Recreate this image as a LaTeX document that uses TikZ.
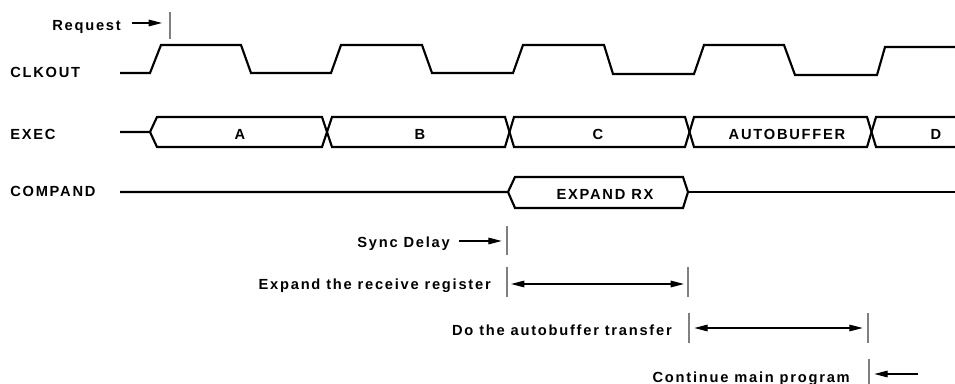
\documentclass[tikz,border=0pt]{standalone}
\usepackage{fontspec}
\setmainfont{Liberation Sans}[LetterSpace=12]
\usetikzlibrary{arrows.meta}
\definecolor{bargray}{HTML}{808080}
\begin{document}
\begin{tikzpicture}[x=0.75pt,y=-0.75pt,
  lbl/.style={font=\fontsize{11}{13}\selectfont\bfseries, inner sep=0pt},
  wave/.style={line width=1.6pt, line join=miter},
  bar/.style={draw=none, fill=bargray, minimum width=1.7pt, inner sep=0pt, minimum height=#1*0.75pt},
  arr/.style={line width=0.8pt, -{Triangle[length=10pt,width=5pt]}},
  dbl/.style={line width=0.8pt, {Triangle[length=10pt,width=5pt]}-{Triangle[length=10pt,width=5pt]}}]
\useasboundingbox (0,0) rectangle (955,384);

% signal names
\node[lbl, anchor=base west] (clk) at (10,78) {CLKOUT};
\node[lbl, anchor=base west] (exec) at (10,140) {EXEC};
\node[lbl, anchor=base west] (comp) at (10,197) {COMPAND};

% CLKOUT waveform
\draw[wave] (120,73) -- (150,73) -- (161,45) -- (241,45) -- (251,73) -- (331,73) -- (341,45)
  -- (422,45) -- (432,73) -- (513,73) -- (523,45) -- (604,45) -- (613,74) -- (694,74)
  -- (704,45) -- (784,45) -- (795,75) -- (877,75) -- (885,47) -- (955,47);

% EXEC bus
\draw[wave] (120,132) -- (150,132) -- (157,117) -- (322,117) -- (332,147) -- (505,147) -- (514,117)
  -- (685,117) -- (694,147) -- (867,147) -- (876,117) -- (955,117);
\draw[wave] (150,132) -- (157,147) -- (322,147) -- (332,117) -- (505,117) -- (514,147)
  -- (685,147) -- (694,117) -- (867,117) -- (876,147) -- (955,147);
\node[lbl, anchor=base] (ea) at (240,140) {A};
\node[lbl, anchor=base] (eb) at (420,140) {B};
\node[lbl, anchor=base] (ec) at (598,140) {C};
\node[lbl, anchor=base] (eauto) at (787,140) {AUTOBUFFER};
\node[lbl, anchor=base] (ed) at (936,140) {D};

% COMPAND
\draw[wave] (120,192) -- (508,192) -- (515,177) -- (683,177) -- (688,192) -- (683,208)
  -- (515,208) -- (508,192);
\draw[wave] (688,192) -- (955,192);
\node[lbl, anchor=base] (erx) at (605,200) {EXPAND RX};

% Request
\node[lbl, anchor=base east] (req) at (121,31) {Request};
\node[bar=27] (reqbar) at (170,25.5) {};
\draw[arr] ([xshift=8pt]req.east |- 0,23) -- ([xshift=-5pt]reqbar.west |- 0,23);

% Sync Delay
\node[lbl, anchor=base east] (sync) at (450,248) {Sync Delay};
\node[bar=29] (syncbar) at (507,240.5) {};
\draw[arr] ([xshift=7pt]sync.east |- 0,241) -- ([xshift=-3pt]syncbar.west |- 0,241);

% Expand the receive register
\node[lbl, anchor=base east] (exp) at (491,290) {Expand the receive register};
\node[bar=30] (expbarL) at (507,282) {};
\node[bar=30] (expbarR) at (688,282) {};
\draw[dbl] ([xshift=2pt]expbarL.east |- 0,284) -- ([xshift=-2pt]expbarR.west |- 0,284);

% Do the autobuffer transfer
\node[lbl, anchor=base east] (auto) at (672,335) {Do the autobuffer transfer};
\node[bar=30] (autobarL) at (689,328) {};
\node[bar=30] (autobarR) at (868,328) {};
\draw[dbl] ([xshift=3pt]autobarL.east |- 0,328) -- ([xshift=-3pt]autobarR.west |- 0,328);

% Continue main program
\node[lbl, anchor=base east] (cont) at (850,382) {Continue main program};
\node[bar=26] (contbar) at (869,371.5) {};
\coordinate (contend) at (918,374);
\draw[arr] (contend) -- ([xshift=3pt]contbar.east |- contend);
\end{tikzpicture}
\end{document}
